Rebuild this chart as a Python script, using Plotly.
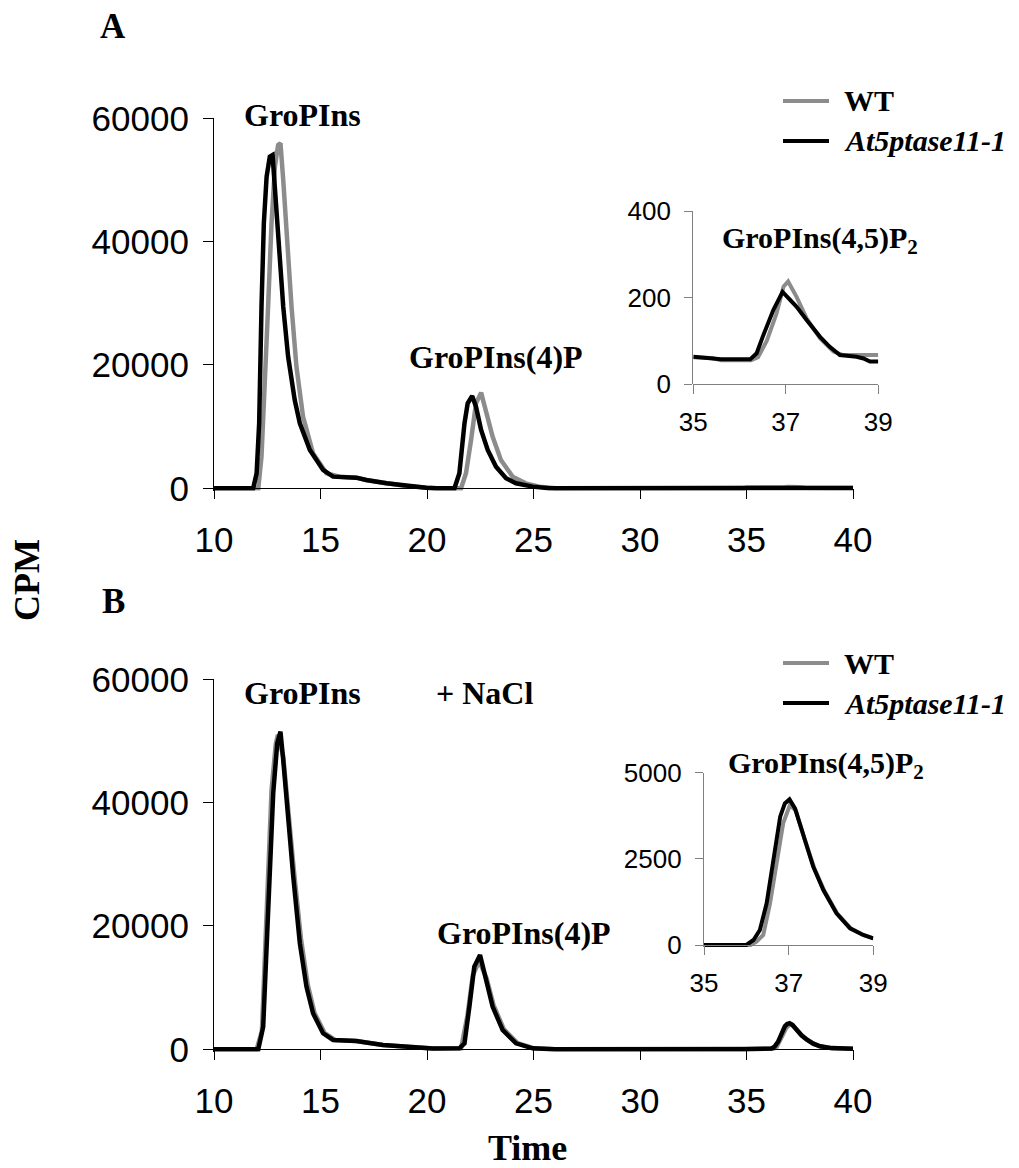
import plotly.graph_objects as go

# page body adds an 8 px margin, so every paper position is shifted 8 px back
OFF = 8
W, H = 1019, 1168

# ---------------- Data ----------------
# Panel A, main chromatogram (10-35 min)
a_wt_t = [10, 12.08, 12.23, 12.39, 12.54, 12.7, 12.86, 13.01, 13.12, 13.25, 13.43, 13.64, 13.87,
          14.18, 14.65, 15.28, 15.9, 16.7, 17.2, 18.1, 19.0, 20.0, 20.5, 21.6, 21.83, 22.07, 22.3,
          22.54, 22.77, 23.08, 23.47, 24.02, 24.64, 25.27, 26.05, 34.9]
a_wt = [0, 0, 5135, 15950, 29460, 42970, 52160, 55680, 55950, 50000, 40270, 29460, 19730,
        11620, 5680, 2430, 1890, 1700, 1300, 800, 380, 100, 0, 0, 2430, 7840, 13780,
        15510, 12700, 8380, 4590, 1890, 810, 270, 0, 0]
a_mut_t = [10, 11.84, 12.0, 12.12, 12.23, 12.34, 12.47, 12.62, 12.75, 12.86, 13.01, 13.25, 13.48,
           13.79, 14.03, 14.5, 15.12, 15.59, 16.68, 17.15, 18.09, 19.02, 19.96, 20.4, 21.29, 21.52,
           21.76, 21.91, 22.12, 22.3, 22.54, 22.85, 23.24, 23.71, 24.18, 24.96, 25.74, 34.9]
a_mut = [0, 0, 2430, 10540, 29460, 42970, 50540, 53780, 54050, 48380, 40270, 29460, 21350,
         14320, 10540, 6220, 2970, 1890, 1730, 1350, 810, 380, 100, 0, 0, 2430,
         10540, 13780, 14970, 13240, 9460, 6220, 3510, 1620, 810, 270, 0, 0]

# Panel A, inset (35-39 min) GroPIns(4,5)P2
ai_wt_t = [35.0, 35.4, 35.6, 36.25, 36.4, 36.59, 36.8, 36.95, 37.05, 37.23, 37.45, 37.74, 38.03, 38.24, 39.0]
ai_wt = [62, 60, 55, 55, 62, 100, 163, 225, 237, 202, 152, 106, 75, 67, 67]
ai_mut_t = [35.0, 35.43, 35.6, 36.23, 36.37, 36.5, 36.73, 36.93, 37.09, 37.23, 37.45, 37.74, 37.95,
            38.17, 38.53, 38.68, 38.82, 39.0]
ai_mut = [63, 59, 57, 57, 71, 109, 171, 213, 194, 179, 148, 109, 86, 67, 63, 59, 52, 52]

# Panel B (+NaCl), main chromatogram (10-35 min)
b_wt_t = [10, 12.0, 12.25, 12.4, 12.55, 12.7, 12.9, 13.0, 13.25, 13.5, 13.75, 14.08, 14.4, 14.72,
          15.2, 15.7, 16.68, 17.93, 19.34, 20.27, 21.5, 21.6, 21.9, 22.15, 22.45, 22.8, 23.12, 23.6,
          24.25, 25.0, 26.0, 34.9]
b_wt = [0, 0, 3000, 17000, 31000, 42000, 49500, 51000, 47500, 38000, 29000, 18000, 10500, 5900,
        2600, 1500, 1350, 700, 270, 150, 160, 160, 5500, 12000, 14300, 11500, 7200, 3300,
        1000, 170, 0, 0]
b_mut_t = [10, 12.08, 12.31, 12.47, 12.62, 12.78, 12.97, 13.12, 13.25, 13.48, 13.72, 14.03, 14.34,
           14.65, 15.12, 15.59, 16.68, 17.93, 19.34, 20.27, 21.52, 21.76, 21.99, 22.22, 22.49, 22.77,
           23.08, 23.55, 24.18, 24.96, 26.0, 34.9]
b_mut = [0, 0, 3680, 17190, 30700, 41510, 49620, 51510, 46920, 37190, 28000, 17190, 10160,
         5840, 2590, 1510, 1350, 700, 270, 150, 160, 970, 6920, 13410, 15300, 11240,
         6920, 3140, 970, 160, 0, 0]

# Panel B, inset (35-39 min) GroPIns(4,5)P2
bi_wt_t = [35.0, 36.1, 36.24, 36.4, 36.56, 36.72, 36.87, 37.03, 37.17, 37.37, 37.6, 37.84, 38.15, 38.47, 38.78, 39.0]
bi_wt = [0, 0, 97, 290, 1209, 2466, 3530, 4060, 3900, 3100, 2250, 1580, 910, 480, 285, 190]
bi_mut_t = [35.0, 36.0, 36.17, 36.32, 36.48, 36.64, 36.8, 36.91, 37.02, 37.15, 37.35, 37.58, 37.82,
            38.13, 38.45, 38.76, 39.0]
bi_mut = [0, 0, 145, 435, 1209, 2466, 3724, 4110, 4226, 3965, 3143, 2273, 1596, 919, 484, 290, 193]

# tail of the run after the inset window
tail_t = [40.0]
a_wt_tail, a_mut_tail = [67], [50]
b_wt_tail, b_mut_tail = [100], [100]

main_xticks = [10, 15, 20, 25, 30, 35, 40]
main_yticks = [0, 20000, 40000, 60000]
inset_xticks = [35, 37, 39]
ai_yticks = [0, 200, 400]
bi_yticks = [0, 2500, 5000]

GRAY = "#8c8c8c"
BLACK = "#000000"
SANS = "Liberation Sans, Arial, sans-serif"
SERIF = "Liberation Serif, Times New Roman, serif"


def px(x):
    return (x - OFF) / W


def py(y):
    return 1 - (y - OFF) / H


fig = go.Figure()

A_wt_x = a_wt_t + ai_wt_t + tail_t
A_wt_y = a_wt + ai_wt + a_wt_tail
A_mut_x = a_mut_t + ai_mut_t + tail_t
A_mut_y = a_mut + ai_mut + a_mut_tail
B_wt_x = b_wt_t + bi_wt_t + tail_t
B_wt_y = b_wt + bi_wt + b_wt_tail
B_mut_x = b_mut_t + bi_mut_t + tail_t
B_mut_y = b_mut + bi_mut + b_mut_tail

LW = 4.5
fig.add_trace(go.Scatter(x=A_wt_x, y=A_wt_y, mode="lines", line=dict(color=GRAY, width=LW), xaxis="x", yaxis="y"))
fig.add_trace(go.Scatter(x=A_mut_x, y=A_mut_y, mode="lines", line=dict(color=BLACK, width=LW), xaxis="x", yaxis="y"))
fig.add_trace(go.Scatter(x=ai_wt_t, y=ai_wt, mode="lines", line=dict(color=GRAY, width=4), xaxis="x2", yaxis="y2"))
fig.add_trace(go.Scatter(x=ai_mut_t, y=ai_mut, mode="lines", line=dict(color=BLACK, width=4), xaxis="x2", yaxis="y2"))
fig.add_trace(go.Scatter(x=B_wt_x, y=B_wt_y, mode="lines", line=dict(color=GRAY, width=LW), xaxis="x3", yaxis="y3"))
fig.add_trace(go.Scatter(x=B_mut_x, y=B_mut_y, mode="lines", line=dict(color=BLACK, width=LW), xaxis="x3", yaxis="y3"))
fig.add_trace(go.Scatter(x=bi_wt_t, y=bi_wt, mode="lines", line=dict(color=GRAY, width=4), xaxis="x4", yaxis="y4"))
fig.add_trace(go.Scatter(x=bi_mut_t, y=bi_mut, mode="lines", line=dict(color=BLACK, width=4), xaxis="x4", yaxis="y4"))

MAIN_TF = dict(family=SANS, size=35, color="black")
INS_TF = dict(family=SANS, size=26, color="black")

MX0, MX1 = 214, 853
A_Y0, A_Y60 = 488.3, 118.3
B_Y0, B_Y60 = 1049.3, 679.3
pad_main = 400  # CPM below zero so thick zero-lines are not clipped


def ydomain(y0, ytop, vmax, pad):
    scale = (y0 - ytop) / vmax
    bottom = y0 + pad * scale
    return [py(bottom), py(ytop)]


def xaxis_main(pos):
    return dict(domain=[px(MX0), px(MX1)], range=[10, 40], anchor="free", position=pos,
                showline=True, linecolor="black", linewidth=1.3, ticks="outside", ticklen=10,
                tickwidth=1.3, tickcolor="black", tickvals=main_xticks, tickfont=MAIN_TF,
                showgrid=False, zeroline=False, ticklabelstandoff=11, automargin=False)


def yaxis_main(dom, anchor):
    return dict(domain=dom, range=[-pad_main, 60000], anchor=anchor, showline=True, linecolor="black",
                linewidth=1.3, ticks="outside", ticklen=10, tickwidth=1.3, tickcolor="black",
                tickvals=main_yticks, ticktext=[str(v) for v in main_yticks], tickfont=MAIN_TF,
                showgrid=False, zeroline=False, ticklabelstandoff=7, automargin=False)


AI_X0, AI_X1, AI_Y0, AI_YT = 693.3, 878.3, 384, 211
BI_X0, BI_X1, BI_Y0, BI_YT = 704, 873.3, 945, 772.7
pad_bi = 60


def xaxis_inset(x0, x1, pos):
    return dict(domain=[px(x0), px(x1)], range=[35, 39], anchor="free", position=pos,
                showline=True, linecolor="#808080", linewidth=1.2, ticks="outside", ticklen=9,
                tickwidth=1.2, tickcolor="#808080", tickvals=inset_xticks, tickfont=INS_TF,
                showgrid=False, zeroline=False, ticklabelstandoff=6, automargin=False)


def yaxis_inset(dom, rng, vals, anchor):
    return dict(domain=dom, range=rng, anchor=anchor, showline=True, linecolor="#808080", linewidth=1.2,
                ticks="outside", ticklen=8, tickwidth=1.2, tickcolor="#808080", tickvals=vals,
                ticktext=[str(v) for v in vals], tickfont=INS_TF, showgrid=False, zeroline=False,
                ticklabelstandoff=8, automargin=False)


fig.update_layout(
    template="none",
    width=W, height=H, margin=dict(l=0, r=0, t=0, b=0, pad=0), autosize=False,
    paper_bgcolor="white", plot_bgcolor="rgba(0,0,0,0)", showlegend=False,
    xaxis=xaxis_main(py(A_Y0)),
    yaxis=yaxis_main(ydomain(A_Y0, A_Y60, 60000, pad_main), "x"),
    xaxis2=xaxis_inset(AI_X0, AI_X1, py(AI_Y0)),
    yaxis2=yaxis_inset([py(AI_Y0), py(AI_YT)], [0, 400], ai_yticks, "x2"),
    xaxis3=xaxis_main(py(B_Y0)),
    yaxis3=yaxis_main(ydomain(B_Y0, B_Y60, 60000, pad_main), "x3"),
    xaxis4=xaxis_inset(BI_X0, BI_X1, py(BI_Y0)),
    yaxis4=yaxis_inset(ydomain(BI_Y0, BI_YT, 5000, pad_bi), [-pad_bi, 5000], bi_yticks, "x4"),
)

annots = []


def label(text, x, y, size=32, xanchor="center", italic=False, angle=0):
    t = f"<b>{text}</b>"
    if italic:
        t = f"<i>{t}</i>"
    annots.append(dict(text=t, x=px(x), y=py(y), xref="paper", yref="paper", showarrow=False,
                       xanchor=xanchor, yanchor="middle", textangle=angle,
                       font=dict(family=SERIF, size=size, color="black")))


label("A", 113, 27, size=35)
label("B", 113, 601, size=35)
label("CPM", 27, 580, size=36, angle=-90)
label("Time", 527, 1148, size=36)

label("GroPIns", 302, 115)
label("GroPIns(4)P", 496, 357)
label("GroPIns(4,5)P<sub>2</sub>", 720, 240, size=30, xanchor="left")
label("GroPIns", 302, 693)
label("+ NaCl", 484, 693)
label("GroPIns(4)P", 435, 933, xanchor="left")
label("GroPIns(4,5)P<sub>2</sub>", 726, 765, size=30, xanchor="left")

shapes = []
for (yw, ym) in [(101, 141), (663, 703)]:
    shapes.append(dict(type="line", xref="paper", yref="paper", x0=px(783), x1=px(829), y0=py(yw), y1=py(yw),
                       line=dict(color=GRAY, width=4)))
    shapes.append(dict(type="line", xref="paper", yref="paper", x0=px(783), x1=px(829), y0=py(ym), y1=py(ym),
                       line=dict(color=BLACK, width=4)))
    label("WT", 842, yw, size=30, xanchor="left")
    label("At5ptase11-1", 842, ym, size=30, xanchor="left", italic=True)

fig.update_layout(annotations=annots, shapes=shapes)

fig.write_html("out.html")
